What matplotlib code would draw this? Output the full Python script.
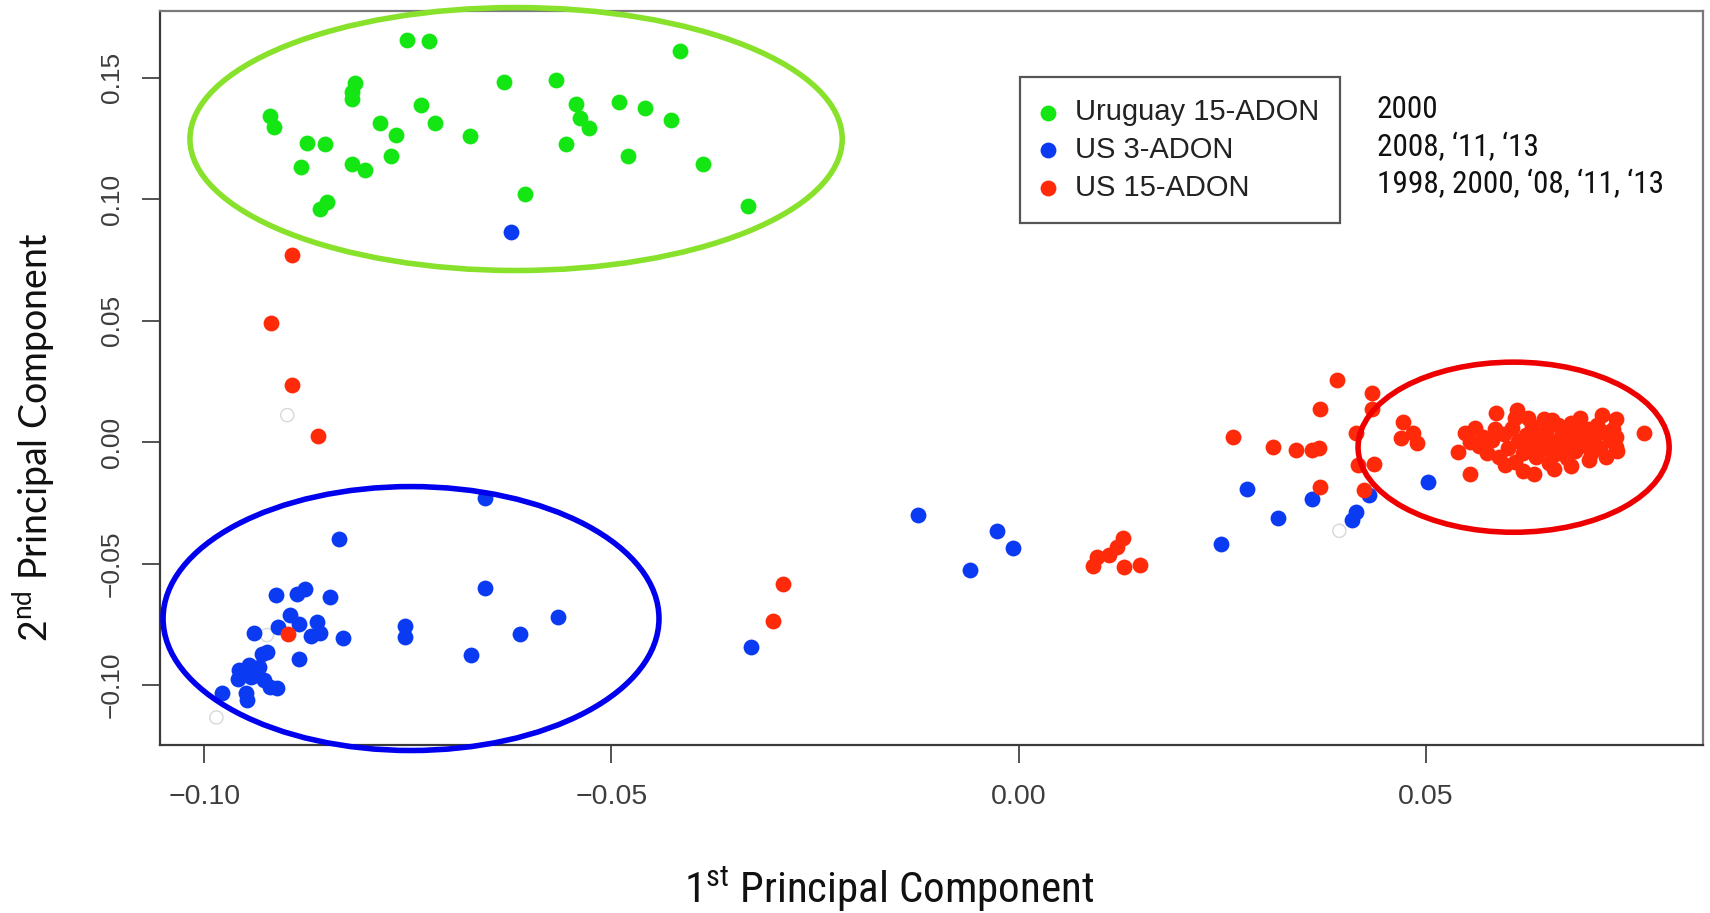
import matplotlib
matplotlib.use('Agg')
import matplotlib.pyplot as plt
from matplotlib import font_manager as fm
from matplotlib.patches import Ellipse

# pontos (PC1, PC2)
uruguay_x = [-0.0751, -0.0724, -0.0815, -0.0818, -0.0819, -0.0734, -0.0919, -0.0914, -0.0784, -0.0716,
             -0.0764, -0.0674, -0.0874, -0.0852, -0.0770, -0.0881, -0.0819, -0.0802, -0.0849, -0.0858,
             -0.0416, -0.0632, -0.0568, -0.0544, -0.0539, -0.0528, -0.0491, -0.0459, -0.0427, -0.0556,
             -0.0480, -0.0387, -0.0606, -0.0332]
uruguay_y = [0.1654, 0.1650, 0.1476, 0.1442, 0.1410, 0.1387, 0.1343, 0.1298, 0.1314, 0.1311,
             0.1263, 0.1259, 0.1229, 0.1226, 0.1177, 0.1133, 0.1144, 0.1119, 0.0989, 0.0958,
             0.1610, 0.1483, 0.1490, 0.1390, 0.1335, 0.1291, 0.1400, 0.1376, 0.1325, 0.1225,
             0.1178, 0.1144, 0.1019, 0.0972]

us3_x = [-0.0623, -0.0655, -0.0834, -0.0912, -0.0886, -0.0876, -0.0845, -0.0655, -0.0565, -0.0895,
         -0.0909, -0.0884, -0.0862, -0.0858, -0.0869, -0.0939, -0.0830, -0.0754, -0.0754, -0.0612,
         -0.0672, -0.0923, -0.0929, -0.0883, -0.0957, -0.0945, -0.0933, -0.0959, -0.0943, -0.0927,
         -0.0919, -0.0911, -0.0949, -0.0948, -0.0978, -0.0936,
         -0.0328, -0.0123, -0.0026, -0.0007, -0.0059, 0.0249, 0.0280, 0.0319, 0.0361, 0.0409,
         0.0414, 0.0430, 0.0503]
us3_y = [0.0865, -0.0232, -0.0400, -0.0630, -0.0623, -0.0606, -0.0637, -0.0600, -0.0719, -0.0712,
         -0.0760, -0.0749, -0.0739, -0.0785, -0.0798, -0.0785, -0.0808, -0.0757, -0.0801, -0.0790,
         -0.0877, -0.0863, -0.0870, -0.0893, -0.0938, -0.0918, -0.0925, -0.0973, -0.0966, -0.0979,
         -0.1007, -0.1010, -0.1034, -0.1062, -0.1034, -0.0959,
         -0.0845, -0.0298, -0.0366, -0.0437, -0.0527, -0.0420, -0.0195, -0.0311, -0.0236, -0.0321,
         -0.0287, -0.0218, -0.0163]

us15_x = [-0.0892, -0.0918, -0.0892, -0.0860, -0.0897, -0.0289, -0.0302,
          0.0128, 0.0121, 0.0111, 0.0097, 0.0091, 0.0130, 0.0149,
          0.0264, 0.0313, 0.0341, 0.0361, 0.0369, 0.0391, 0.0370, 0.0370,
          0.0434, 0.0434, 0.0415, 0.0417, 0.0436, 0.0424, 0.0472, 0.0485, 0.0470, 0.0489, 0.0768,
          0.0554, 0.0540, 0.0548, 0.0560, 0.0587, 0.0612, 0.0626, 0.0655, 0.0716, 0.0734,
          0.0734, 0.0734, 0.0633, 0.0700, 0.0679,
          0.0565, 0.0575, 0.0582, 0.0590, 0.0596, 0.0601, 0.0606, 0.0610, 0.0614, 0.0619,
          0.0623, 0.0628, 0.0631, 0.0636, 0.0640, 0.0644, 0.0648, 0.0652, 0.0655, 0.0659,
          0.0662, 0.0666, 0.0669, 0.0673, 0.0676, 0.0680, 0.0684, 0.0688, 0.0691, 0.0695,
          0.0699, 0.0703, 0.0707, 0.0711, 0.0714, 0.0718, 0.0722, 0.0726, 0.0730, 0.0735,
          0.0598, 0.0585, 0.0570, 0.0645, 0.0678, 0.0610, 0.0690, 0.0658, 0.0555, 0.0620]
us15_y = [0.0770, 0.0491, 0.0235, 0.0025, -0.0790, -0.0584, -0.0735,
          -0.0396, -0.0431, -0.0465, -0.0472, -0.0509, -0.0513, -0.0506,
          0.0022, -0.0022, -0.0033, -0.0033, -0.0023, 0.0255, 0.0135, -0.0184,
          0.0200, 0.0135, 0.0036, -0.0095, -0.0091, -0.0196, 0.0084, 0.0036, 0.0015, -0.0003, 0.0038,
          -0.0132, -0.0040, 0.0036, 0.0056, 0.0118, 0.0132, 0.0098, 0.0091, 0.0111, 0.0093,
          0.0022, -0.0019, -0.0132, -0.0074, 0.0077,
          -0.0015, -0.0045, 0.0010, -0.0060, 0.0035, -0.0025, 0.0060, -0.0080, 0.0005, -0.0045,
          0.0030, -0.0010, 0.0065, -0.0060, 0.0015, -0.0030, 0.0045, -0.0085, 0.0000, -0.0050,
          0.0070, 0.0025, -0.0020, -0.0065, 0.0050, 0.0005, -0.0035, 0.0080, 0.0030, -0.0010,
          0.0055, -0.0045, 0.0015, 0.0070, -0.0025, 0.0040, -0.0060, 0.0010, 0.0055, -0.0035,
          -0.0095, 0.0055, 0.0020, 0.0095, -0.0100, 0.0100, 0.0100, -0.0110, 0.0000, -0.0120]

# pontos quase invisíveis (sem grupo)
outros_x = [-0.0898, -0.0985, -0.0923, 0.0394]
outros_y = [0.0111, -0.1133, -0.0794, -0.0365]

grupos = ['Uruguay 15-ADON', 'US 3-ADON', 'US 15-ADON']
anos = ['2000', '2008, \u201811, \u201813', '1998, 2000, \u201808, \u201811, \u201813']
xticks = [-0.10, -0.05, 0.00, 0.05]
xtick_labels = ['\u22120.10', '\u22120.05', '0.00', '0.05']
yticks = [-0.10, -0.05, 0.00, 0.05, 0.10, 0.15]
ytick_labels = ['\u22120.10', '\u22120.05', '0.00', '0.05', '0.10', '0.15']


def escolher_fonte(*nomes):
    for n in nomes:
        try:
            fm.findfont(n, fallback_to_default=False)
            return n
        except ValueError:
            pass
    return 'DejaVu Sans'


ESTREITA = escolher_fonte('Liberation Sans Narrow', 'Roboto Condensed')
escala = 1.0 if ESTREITA != 'DejaVu Sans' else 0.8
HELV = escolher_fonte('Liberation Sans', 'Arimo')
LABEL = escolher_fonte('Lato', 'Open Sans')

VERDE = '#14e614'
AZUL = '#0a3af2'
VERMELHO = '#ff2a0a'

fig = plt.figure(figsize=(17.1, 9.13), dpi=100)
ax = fig.add_axes([0.0937, 0.1841, 0.9024, 0.8039])

ax.scatter(outros_x, outros_y, s=90, facecolors='none', edgecolors='#d8d8d8', linewidths=1)
h1 = ax.scatter(uruguay_x, uruguay_y, s=130, color=VERDE, linewidths=0, label=grupos[0])
h2 = ax.scatter(us3_x, us3_y, s=130, color=AZUL, linewidths=0, label=grupos[1])
h3 = ax.scatter(us15_x, us15_y, s=130, color=VERMELHO, linewidths=0, label=grupos[2])

ax.set_xlim(-0.1054, 0.0841)
ax.set_ylim(-0.1246, 0.1774)

ax.set_xticks(xticks)
ax.set_xticklabels(xtick_labels, family=HELV, fontsize=20.5, color='#3d3d3d')
ax.set_yticks(yticks)
ax.set_yticklabels(ytick_labels, family=HELV, fontsize=19, color='#3d3d3d',
                   rotation=90, va='center')
ax.tick_params(axis='both', direction='out', length=13, width=1.3, color='#444444')
ax.tick_params(axis='x', pad=15)
ax.tick_params(axis='y', pad=13)

for lado in ['left', 'bottom']:
    ax.spines[lado].set_color('#3a3a3a')
    ax.spines[lado].set_linewidth(1.6)
for lado in ['top', 'right']:
    ax.spines[lado].set_color('#7a7a7a')
    ax.spines[lado].set_linewidth(1.6)

# elipses desenhadas por cima
elipses = [((-0.0617, 0.1247), 0.0801, 0.1082, '#88e12a'),
           ((-0.0746, -0.0726), 0.0609, 0.1086, '#0000ee'),
           ((0.0608, -0.0021), 0.0382, 0.0700, '#ee0000')]
for centro, w, h, cor in elipses:
    e = Ellipse(centro, w, h, fill=False, edgecolor=cor, linewidth=4, zorder=5, clip_on=False)
    ax.add_patch(e)

leg = ax.legend(handles=[h1, h2, h3], loc='upper left',
                bbox_to_anchor=(1020 / 1710, 1 - 77.4 / 913), bbox_transform=fig.transFigure,
                borderaxespad=0, fancybox=False, edgecolor='#555555', framealpha=1,
                prop={'family': HELV, 'size': 21}, labelspacing=0.33, borderpad=0.72,
                handlelength=0.45, handletextpad=0.7, scatterpoints=1, labelcolor='#222222')
leg.get_frame().set_linewidth(1.6)

for i, txt in enumerate(anos):
    fig.text(1377 / 1710, 1 - (110 + 37 * i) / 913, txt, ha='left', va='center',
             family=ESTREITA, fontsize=22.5 * escala, color='#111111')

fig.text(889 / 1710, 1 - 889 / 913, '1$^{\\mathdefault{st}}$ Principal Component',
         ha='center', va='center', family=ESTREITA, fontsize=31 * escala, color='#111111')
fig.text(33 / 1710, 1 - 437 / 913, '2$^{\\mathdefault{nd}}$ Principal Component',
         ha='center', va='center', rotation=90, family=LABEL, fontsize=27, color='#111111')

plt.savefig('out.png', dpi=100)
plt.close()
